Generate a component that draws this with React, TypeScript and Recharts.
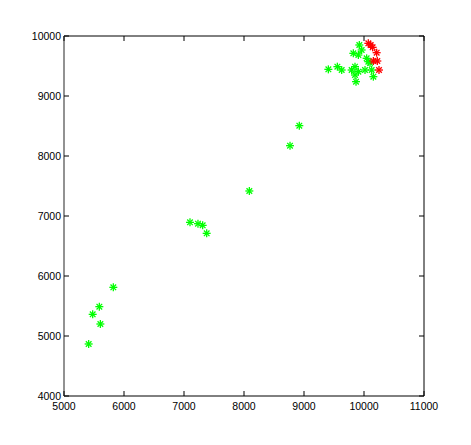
import { ScatterChart, Scatter, XAxis, YAxis } from "recharts";

const xTicks = [5000, 6000, 7000, 8000, 9000, 10000, 11000];
const yTicks = [4000, 5000, 6000, 7000, 8000, 9000, 10000];

const greenX = [
  5411, 5478, 5589, 5606, 5822, 7100, 7233, 7311, 7378, 8089, 8767, 8922,
  9406, 9556, 9628, 9794, 9850, 9867, 9822, 9922, 9961, 9906, 10044, 10072,
  10017, 9906, 10128, 10156, 9850, 10100,
];
const greenY = [
  4867, 5361, 5489, 5200, 5811, 6894, 6872, 6844, 6711, 7417, 8172, 8506,
  9444, 9489, 9433, 9433, 9489, 9239, 9711, 9850, 9767, 9683, 9628, 9572,
  9433, 9406, 9433, 9322, 9350, 9550,
];
const redX = [10072, 10111, 10144, 10211, 10222, 10156, 10250];
const redY = [9878, 9850, 9811, 9722, 9583, 9583, 9433];

const green = greenX.map((x, i) => ({ x, y: greenY[i] }));
const red = redX.map((x, i) => ({ x, y: redY[i] }));

const font = "'Liberation Sans', Arial, sans-serif";

const star = (color: string) => (props: any) => {
  const { cx, cy } = props;
  const r = 4;
  const d = 2.8;
  return (
    <g stroke={color} strokeWidth={1.3}>
      <line x1={cx - r} y1={cy} x2={cx + r} y2={cy} />
      <line x1={cx} y1={cy - r} x2={cx} y2={cy + r} />
      <line x1={cx - d} y1={cy - d} x2={cx + d} y2={cy + d} />
      <line x1={cx - d} y1={cy + d} x2={cx + d} y2={cy - d} />
    </g>
  );
};

const BottomTick = (props: any) => {
  const { x, y, payload } = props;
  return (
    <g>
      <line x1={x} y1={y} x2={x} y2={y - 5} stroke="#000" />
      <text x={x} y={y + 14} textAnchor="middle" fontSize={10.5} fontFamily={font} fill="#000">
        {payload.value}
      </text>
    </g>
  );
};

const TopTick = (props: any) => {
  const { x, y } = props;
  return <line x1={x} y1={y} x2={x} y2={y + 5} stroke="#000" />;
};

const LeftTick = (props: any) => {
  const { x, y, payload } = props;
  return (
    <g>
      <line x1={x} y1={y} x2={x + 5} y2={y} stroke="#000" />
      <text x={x - 3} y={y + 4} textAnchor="end" fontSize={10.5} fontFamily={font} fill="#000">
        {payload.value}
      </text>
    </g>
  );
};

const RightTick = (props: any) => {
  const { x, y } = props;
  return <line x1={x} y1={y} x2={x - 5} y2={y} stroke="#000" />;
};

export default function App() {
  return (
    <div style={{ width: 455, height: 430, background: "#fff" }}>
      <ScatterChart width={455} height={430} margin={{ top: 18, right: 29, bottom: 12, left: 6 }}>
        <XAxis
          xAxisId="b"
          type="number"
          dataKey="x"
          domain={[5000, 11000]}
          ticks={xTicks}
          height={30}
          tickSize={0}
          tickMargin={0}
          tick={<BottomTick />}
          axisLine={{ stroke: "#000" }}
          allowDataOverflow
        />
        <XAxis
          xAxisId="t"
          orientation="top"
          type="number"
          dataKey="x"
          domain={[5000, 11000]}
          ticks={xTicks}
          height={10}
          tickSize={0}
          tickMargin={0}
          tick={<TopTick />}
          axisLine={{ stroke: "#000" }}
          allowDataOverflow
        />
        <YAxis
          yAxisId="l"
          type="number"
          dataKey="y"
          domain={[4000, 10000]}
          ticks={yTicks}
          width={50}
          tickSize={0}
          tickMargin={0}
          tick={<LeftTick />}
          axisLine={{ stroke: "#6e6e6e", strokeWidth: 1.5 }}
          allowDataOverflow
        />
        <YAxis
          yAxisId="r"
          orientation="right"
          type="number"
          dataKey="y"
          domain={[4000, 10000]}
          ticks={yTicks}
          width={10}
          tickSize={0}
          tickMargin={0}
          tick={<RightTick />}
          axisLine={{ stroke: "#000" }}
          allowDataOverflow
        />
        <Scatter xAxisId="b" yAxisId="l" data={green} shape={star("#00ff00")} isAnimationActive={false} />
        <Scatter xAxisId="b" yAxisId="l" data={red} shape={star("#ff0000")} isAnimationActive={false} />
      </ScatterChart>
    </div>
  );
}
